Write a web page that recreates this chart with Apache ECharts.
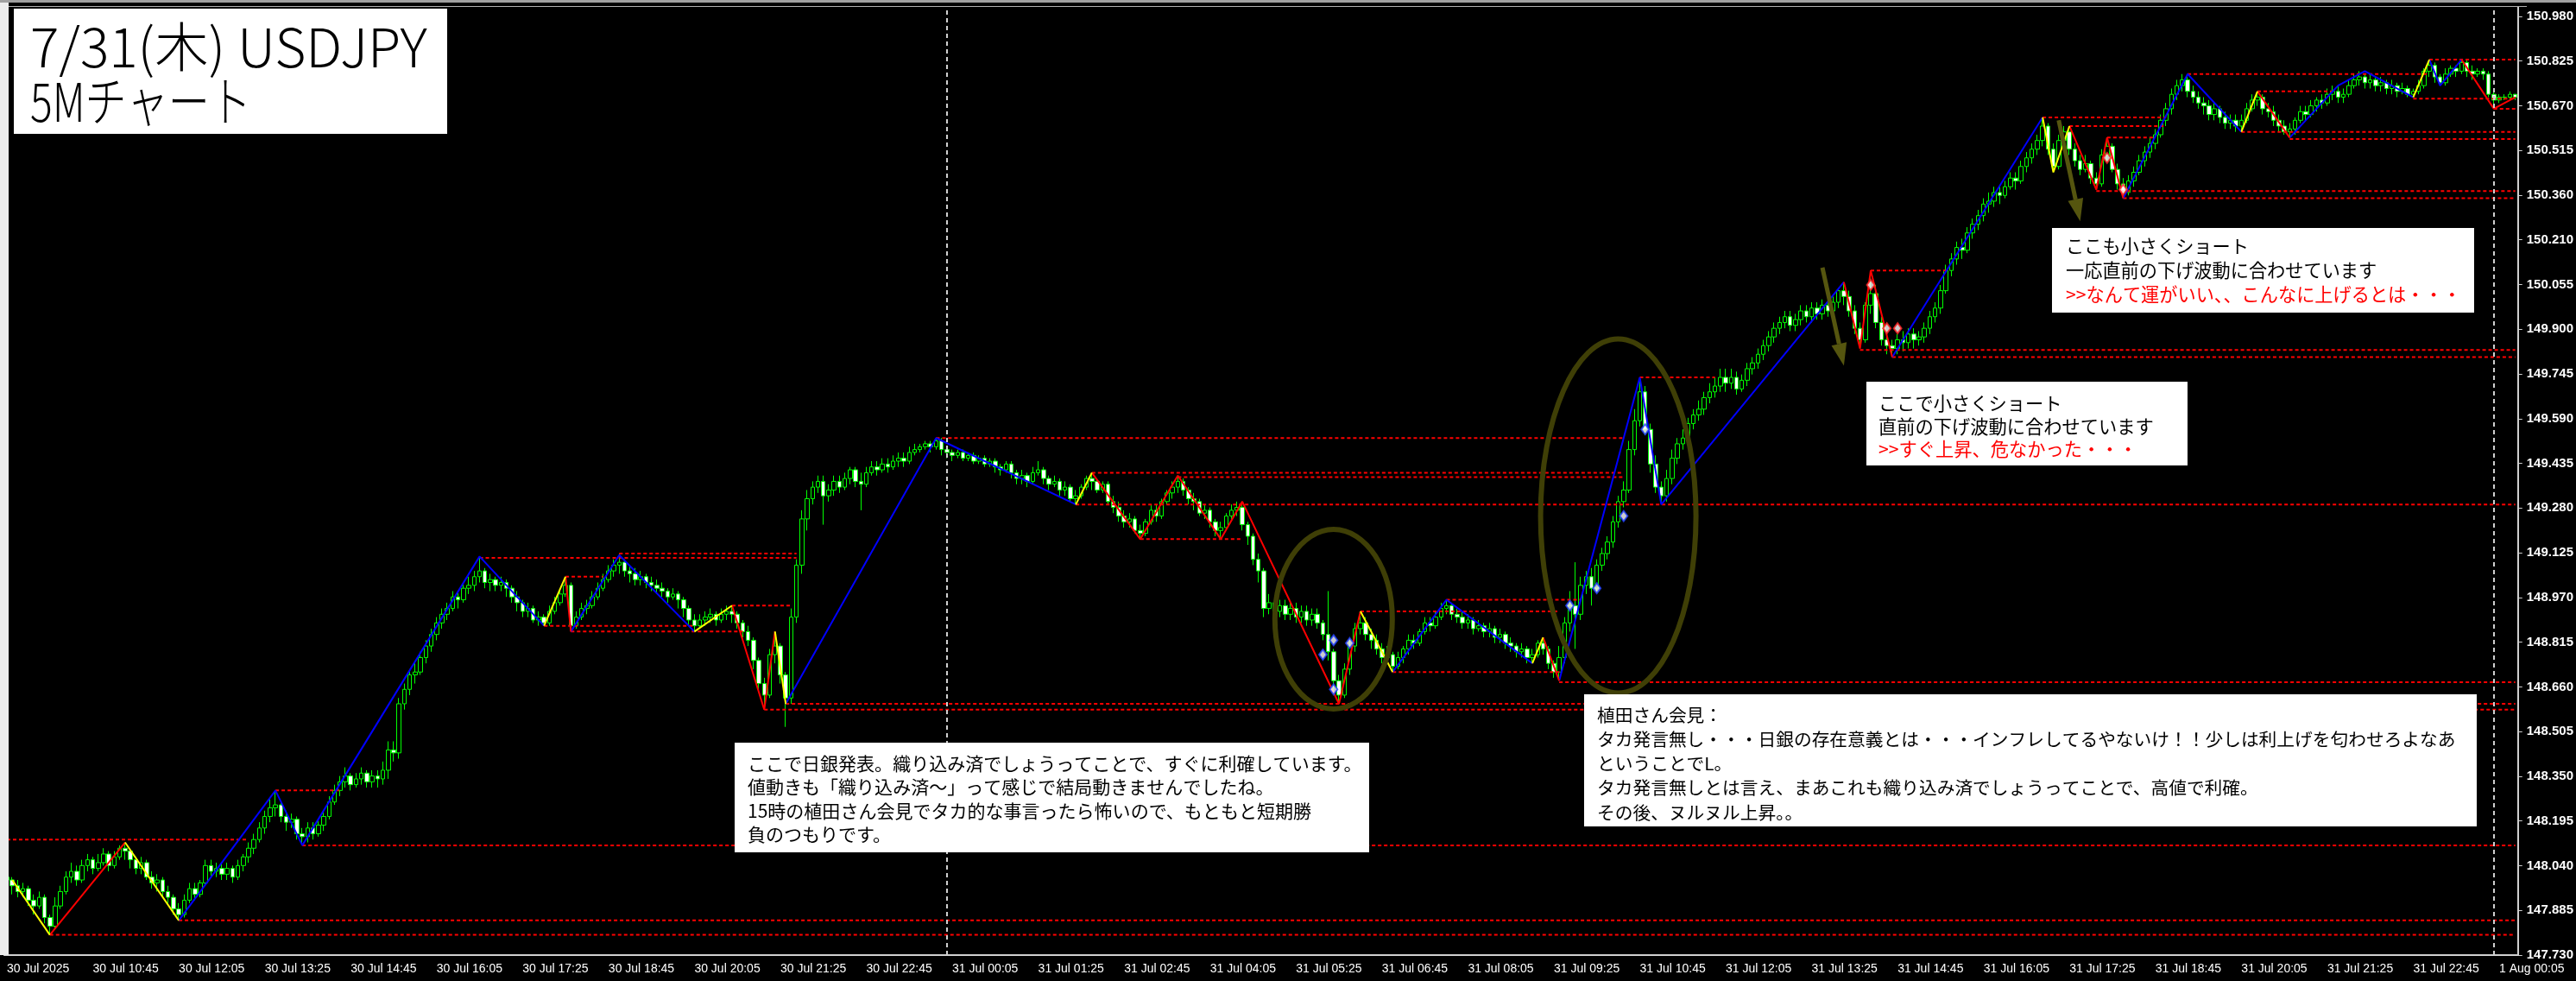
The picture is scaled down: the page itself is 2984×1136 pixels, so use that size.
<!DOCTYPE html>
<html><head><meta charset="utf-8">
<script src="https://cdn.jsdelivr.net/npm/echarts@6/dist/echarts.min.js"></script>
<style>html,body{margin:0;padding:0;background:#000;overflow:hidden}#c{width:2984px;height:1136px}</style>
</head><body><div id="c"></div>
<script>
// ---------- DATA ----------
const barCount = 468;
const firstOpen = 148.00;
const closes = [
147.99,147.97,147.95,147.96,147.92,147.90,147.93,147.86,147.83,147.90,
147.95,148.00,148.02,147.99,148.04,148.06,148.03,148.05,148.08,148.04,
148.07,148.10,148.09,148.06,148.03,148.05,148.00,147.98,147.99,147.95,
147.93,147.89,147.87,147.92,147.96,147.94,147.98,148.04,148.02,148.03,
148.01,148.03,148.00,148.04,148.07,148.10,148.13,148.17,148.21,148.24,
148.25,148.21,148.19,148.20,148.15,148.14,148.17,148.15,148.18,148.21,
148.26,148.30,148.33,148.35,148.32,148.34,148.36,148.33,148.35,148.34,
148.37,148.44,148.43,148.60,148.65,148.70,148.71,148.76,148.80,148.84,
148.88,148.91,148.93,148.97,148.96,149.00,149.01,149.04,149.06,149.02,
149.03,149.01,149.02,149.00,148.97,148.95,148.92,148.93,148.89,148.90,
148.88,148.92,148.95,148.98,149.01,148.87,148.90,148.93,148.94,148.97,
149.00,149.03,149.06,149.08,149.09,149.06,149.05,149.03,149.04,149.02,
149.01,149.00,148.99,148.97,148.98,148.96,148.93,148.89,148.87,148.89,
148.90,148.91,148.89,148.91,148.92,148.91,148.88,148.85,148.82,148.75,
148.67,148.63,148.77,148.80,148.70,148.62,148.90,149.08,149.24,149.31,
149.35,149.37,149.32,149.34,149.37,149.35,149.38,149.41,149.37,149.36,
149.40,149.42,149.41,149.43,149.42,149.44,149.45,149.44,149.47,149.48,
149.49,149.50,149.49,149.51,149.48,149.47,149.46,149.47,149.45,149.46,
149.44,149.45,149.43,149.44,149.42,149.41,149.43,149.40,149.38,149.39,
149.37,149.40,149.41,149.38,149.36,149.37,149.34,149.35,149.31,149.32,
149.35,149.38,149.37,149.34,149.36,149.30,149.28,149.25,149.23,149.24,
149.20,149.19,149.23,149.27,149.25,149.30,149.33,149.35,149.37,149.34,
149.31,149.30,149.26,149.27,149.23,149.20,149.21,149.25,149.27,149.28,
149.22,149.18,149.10,149.06,148.93,148.95,148.92,148.94,148.91,148.93,
148.90,148.92,148.89,148.91,148.88,148.84,148.78,148.68,148.63,148.72,
148.80,148.86,148.88,148.84,148.82,148.79,148.76,148.77,148.73,148.76,
148.79,148.82,148.81,148.85,148.88,148.87,148.90,148.93,148.94,148.91,
148.90,148.88,148.89,148.86,148.87,148.85,148.86,148.83,148.84,148.81,
148.80,148.78,148.79,148.76,148.77,148.81,148.79,148.74,148.71,148.76,
148.88,148.94,148.91,149.01,149.04,149.00,149.08,149.12,149.16,149.23,
149.30,149.34,149.48,149.58,149.68,149.55,149.43,149.35,149.32,149.38,
149.45,149.50,149.52,149.57,149.60,149.62,149.66,149.68,149.70,149.73,
149.71,149.73,149.69,149.72,149.76,149.78,149.81,149.84,149.87,149.90,
149.92,149.94,149.91,149.93,149.96,149.94,149.97,149.95,149.98,149.96,
149.99,150.03,150.01,149.96,149.90,149.86,149.98,150.02,149.92,149.86,
149.84,149.83,149.86,149.85,149.88,149.86,149.87,149.90,149.94,149.97,
150.03,150.10,150.14,150.18,150.17,150.23,150.26,150.29,150.33,150.34,
150.37,150.36,150.39,150.42,150.41,150.46,150.49,150.52,150.55,150.60,
150.52,150.46,150.55,150.58,150.52,150.48,150.45,150.47,150.42,150.40,
150.50,150.53,150.45,150.40,150.37,150.41,150.44,150.48,150.51,150.54,
150.57,150.62,150.66,150.71,150.74,150.76,150.72,150.70,150.68,150.67,
150.64,150.66,150.63,150.61,150.62,150.60,150.62,150.66,150.69,150.70,
150.66,150.65,150.62,150.60,150.58,150.59,150.62,150.65,150.64,150.67,
150.69,150.68,150.71,150.72,150.70,150.71,150.74,150.76,150.77,150.75,
150.76,150.74,150.75,150.73,150.74,150.72,150.73,150.71,150.72,150.74,
150.79,150.81,150.77,150.75,150.78,150.80,150.79,150.82,150.79,150.78,
150.79,150.78,150.71,150.69,150.70,150.70,150.71,150.70
];
const highs = [
148.01,148.00,147.99,147.98,147.97,147.94,147.95,147.94,147.87,147.93,
147.97,148.02,148.05,148.04,148.06,148.08,148.07,148.08,148.10,148.09,
148.09,148.11,148.12,148.10,148.07,148.07,148.06,148.02,148.01,148.00,
147.97,147.94,147.91,147.94,147.98,147.98,147.99,148.06,148.06,148.05,
148.05,148.05,148.04,148.06,148.08,148.12,148.15,148.19,148.23,148.27,
148.30,148.26,148.23,148.22,148.21,148.17,148.19,148.19,148.20,148.23,
148.28,148.32,148.35,148.38,148.36,148.36,148.38,148.37,148.37,148.37,
148.40,148.47,148.47,148.62,148.67,148.72,148.74,148.78,148.82,148.86,
148.90,148.93,148.95,148.99,148.99,149.02,149.04,149.06,149.11,149.07,
149.05,149.04,149.04,149.03,149.01,148.99,148.96,148.95,148.94,148.92,
148.91,148.94,148.97,149.00,149.04,149.02,148.92,148.95,148.96,148.99,
149.02,149.05,149.08,149.10,149.12,149.10,149.08,149.07,149.06,149.05,
149.04,149.03,149.02,149.00,149.00,148.99,148.97,148.94,148.91,148.91,
148.92,148.93,148.92,148.93,148.94,148.94,148.92,148.89,148.87,148.83,
148.76,148.69,148.79,148.85,148.81,148.71,148.93,149.10,149.27,149.34,
149.37,149.39,149.39,149.36,149.39,149.39,149.40,149.42,149.42,149.40,
149.42,149.44,149.44,149.45,149.45,149.46,149.47,149.47,149.49,149.50,
149.50,149.51,149.51,149.52,149.52,149.49,149.48,149.48,149.48,149.47,
149.47,149.46,149.46,149.45,149.45,149.43,149.44,149.44,149.41,149.41,
149.40,149.42,149.44,149.42,149.39,149.39,149.38,149.37,149.36,149.34,
149.36,149.39,149.40,149.38,149.37,149.37,149.32,149.30,149.27,149.26,
149.25,149.22,149.24,149.29,149.29,149.31,149.34,149.37,149.39,149.38,
149.35,149.33,149.31,149.29,149.28,149.24,149.23,149.26,149.29,149.30,
149.29,149.23,149.19,149.12,149.07,148.98,148.97,148.96,148.96,148.95,
148.95,148.94,148.94,148.93,148.93,148.89,148.99,148.79,148.70,148.74,
148.82,148.88,148.92,148.90,148.86,148.84,148.81,148.80,148.78,148.78,
148.80,148.84,148.84,148.86,148.90,148.90,148.92,148.95,148.96,148.95,
148.93,148.92,148.91,148.90,148.89,148.88,148.88,148.87,148.86,148.85,
148.83,148.81,148.81,148.80,148.79,148.82,148.83,148.80,148.75,148.80,
148.90,148.99,149.09,149.04,149.06,149.07,149.10,149.14,149.18,149.25,
149.32,149.37,149.51,149.62,149.73,149.70,149.57,149.46,149.37,149.41,
149.48,149.52,149.55,149.59,149.62,149.65,149.68,149.71,149.73,149.76,
149.76,149.76,149.75,149.74,149.78,149.80,149.83,149.86,149.89,149.92,
149.94,149.96,149.96,149.95,149.98,149.98,149.99,149.99,150.00,150.00,
150.01,150.04,150.06,150.03,149.98,149.92,149.99,150.10,150.05,149.94,
149.88,149.86,149.88,149.89,149.90,149.90,149.89,149.92,149.96,149.99,
150.05,150.12,150.16,150.20,150.21,150.25,150.28,150.31,150.35,150.37,
150.39,150.39,150.41,150.44,150.44,150.48,150.51,150.54,150.57,150.63,
150.61,150.54,150.57,150.60,150.59,150.54,150.50,150.50,150.48,150.44,
150.52,150.56,150.54,150.47,150.42,150.43,150.46,150.50,150.53,150.56,
150.59,150.64,150.68,150.73,150.76,150.78,150.78,150.74,150.72,150.70,
150.69,150.68,150.67,150.65,150.64,150.64,150.64,150.68,150.71,150.72,
150.71,150.68,150.67,150.64,150.62,150.61,150.63,150.67,150.67,150.69,
150.70,150.71,150.73,150.74,150.74,150.73,150.76,150.78,150.79,150.78,
150.78,150.77,150.77,150.76,150.76,150.75,150.75,150.74,150.73,150.76,
150.80,150.83,150.82,150.78,150.80,150.81,150.81,150.83,150.83,150.81,
150.80,150.80,150.79,150.72,150.71,150.71,150.72,150.71
];
const lows = [
147.97,147.94,147.93,147.93,147.90,147.87,147.89,147.84,147.80,147.82,
147.89,147.94,147.98,147.97,147.98,148.02,148.01,148.02,148.04,148.02,
148.03,148.06,148.06,148.03,148.01,148.01,147.99,147.96,147.95,147.93,
147.91,147.87,147.85,147.86,147.91,147.92,147.93,147.97,148.00,148.00,
147.99,147.99,147.98,147.99,148.02,148.05,148.08,148.12,148.15,148.19,
148.21,148.19,148.16,148.17,148.13,148.11,148.12,148.13,148.14,148.16,
148.20,148.25,148.28,148.31,148.30,148.31,148.32,148.31,148.31,148.31,
148.32,148.34,148.40,148.41,148.58,148.63,148.67,148.70,148.74,148.78,
148.82,148.86,148.89,148.92,148.93,148.95,148.98,148.99,149.02,149.00,
148.99,148.99,148.99,148.97,148.95,148.92,148.90,148.90,148.88,148.87,
148.87,148.87,148.91,148.94,148.97,148.85,148.86,148.89,148.91,148.93,
148.96,148.99,149.02,149.04,149.05,149.04,149.02,149.01,149.01,149.00,
148.99,148.98,148.97,148.95,148.96,148.93,148.90,148.87,148.85,148.86,
148.87,148.88,148.87,148.88,148.89,148.88,148.86,148.83,148.80,148.72,
148.65,148.58,148.62,148.74,148.67,148.52,148.60,148.88,149.05,149.20,
149.29,149.33,149.22,149.30,149.32,149.33,149.34,149.36,149.35,149.27,
149.35,149.39,149.39,149.40,149.40,149.41,149.42,149.42,149.43,149.46,
149.47,149.48,149.47,149.48,149.46,149.45,149.44,149.45,149.44,149.44,
149.43,149.43,149.42,149.42,149.40,149.39,149.40,149.38,149.36,149.36,
149.35,149.36,149.39,149.36,149.34,149.35,149.32,149.32,149.30,149.29,
149.31,149.34,149.34,149.33,149.33,149.29,149.26,149.23,149.21,149.21,
149.19,149.17,149.18,149.22,149.23,149.24,149.29,149.31,149.33,149.32,
149.29,149.27,149.25,149.24,149.21,149.18,149.17,149.20,149.24,149.25,
149.20,149.15,149.08,149.02,148.90,148.91,148.89,148.90,148.89,148.89,
148.88,148.88,148.87,148.87,148.86,148.82,148.75,148.64,148.60,148.62,
148.70,148.78,148.84,148.82,148.79,148.77,148.74,148.74,148.71,148.72,
148.74,148.77,148.79,148.80,148.84,148.85,148.86,148.89,148.91,148.89,
148.88,148.86,148.86,148.84,148.85,148.83,148.83,148.81,148.81,148.79,
148.78,148.76,148.76,148.74,148.74,148.76,148.77,148.72,148.69,148.68,
148.74,148.85,148.79,148.89,148.98,148.94,148.99,149.06,149.10,149.14,
149.21,149.28,149.33,149.46,149.56,149.53,149.40,149.33,149.29,149.30,
149.36,149.43,149.48,149.50,149.55,149.58,149.60,149.64,149.66,149.68,
149.68,149.69,149.67,149.68,149.70,149.74,149.76,149.79,149.82,149.85,
149.88,149.90,149.89,149.89,149.91,149.92,149.92,149.93,149.93,149.94,
149.94,149.97,149.98,149.94,149.88,149.83,149.85,149.95,149.90,149.84,
149.81,149.80,149.81,149.82,149.83,149.83,149.84,149.85,149.88,149.92,
149.95,150.02,150.08,150.12,150.14,150.16,150.21,150.24,150.27,150.30,
150.32,150.33,150.35,150.38,150.38,150.40,150.44,150.47,150.50,150.53,
150.50,150.44,150.45,150.52,150.50,150.46,150.43,150.44,150.40,150.38,
150.39,150.48,150.44,150.38,150.35,150.36,150.39,150.43,150.46,150.49,
150.52,150.56,150.60,150.64,150.69,150.72,150.70,150.68,150.66,150.64,
150.62,150.62,150.61,150.59,150.59,150.58,150.58,150.61,150.65,150.67,
150.64,150.63,150.60,150.58,150.57,150.56,150.57,150.61,150.62,150.63,
150.65,150.66,150.67,150.69,150.68,150.68,150.70,150.73,150.74,150.73,
150.73,150.72,150.72,150.71,150.71,150.70,150.71,150.70,150.70,150.71,
150.73,150.77,150.75,150.74,150.74,150.77,150.77,150.78,150.77,150.76,
150.77,150.76,150.70,150.66,150.68,150.69,150.69,150.69
];
const xTickLabels = ['30 Jul 2025','30 Jul 10:45','30 Jul 12:05','30 Jul 13:25','30 Jul 14:45','30 Jul 16:05','30 Jul 17:25','30 Jul 18:45','30 Jul 20:05','30 Jul 21:25','30 Jul 22:45','31 Jul 00:05','31 Jul 01:25','31 Jul 02:45','31 Jul 04:05','31 Jul 05:25','31 Jul 06:45','31 Jul 08:05','31 Jul 09:25','31 Jul 10:45','31 Jul 12:05','31 Jul 13:25','31 Jul 14:45','31 Jul 16:05','31 Jul 17:25','31 Jul 18:45','31 Jul 20:05','31 Jul 21:25','31 Jul 22:45','1 Aug 00:05'];
const yTickLabels = ['147.730','147.885','148.040','148.195','148.350','148.505','148.660','148.815','148.970','149.125','149.280','149.435','149.590','149.745','149.900','150.055','150.210','150.360','150.515','150.670','150.825','150.980'];
const daySeparators = [175, 463];
const yellowLegs = [
 [[1,147.99],[8,147.80]],
 [[22,148.12],[32,147.85]],
 [[100,148.87],[104,149.04]],
 [[128,148.85],[135,148.94]],
 [[143,148.85],[145,148.60]],
 [[199,149.29],[202,149.40]],
 [[252,148.92],[258,148.71]],
 [[284,148.74],[286,148.83]],
 [[379,150.63],[381,150.44],[384,150.60]],
 [[416,150.58],[419,150.72]],
 [[448,150.70],[451,150.83]]
];
const redLegs = [
 [[8,147.80],[22,148.12]],
 [[104,149.04],[105,148.85]],
 [[135,148.94],[141,148.58],[143,148.85]],
 [[202,149.40],[211,149.17],[218,149.39],[226,149.17],[230,149.30],[248,148.60],[252,148.92]],
 [[286,148.83],[289,148.68]],
 [[342,150.06],[345,149.83],[347,150.10],[351,149.80]],
 [[384,150.60],[389,150.38],[391,150.56],[394,150.35]],
 [[419,150.72],[425,150.56]],
 [[457,150.83],[463,150.66],[467,150.70]]
];
const blueLegs = [
 [[32,147.85],[50,148.30],[55,148.11],[88,149.11],[100,148.87]],
 [[105,148.85],[114,149.115],[128,148.85]],
 [[145,148.60],[173,149.52],[199,149.29]],
 [[258,148.71],[268,148.96],[284,148.74]],
 [[289,148.68],[304,149.73],[308,149.29],[342,150.06]],
 [[351,149.80],[379,150.63]],
 [[394,150.35],[406,150.78],[416,150.58]],
 [[425,150.56],[434,150.74],[439,150.79],[448,150.70]],
 [[451,150.83],[453,150.74],[457,150.83]]
];
// [startBar, endBar, price]
const hLevels = [
 [8,467,147.80],[32,467,147.85],[0,45,148.13],[55,467,148.11],[50,62,148.30],
 [88,147,149.105],[114,147,149.12],[104,111,149.04],[100,128,148.87],[105,137,148.85],
 [135,146,148.94],[141,467,148.58],[145,467,148.60],[173,301,149.52],[202,301,149.40],
 [218,301,149.385],[199,467,149.29],[211,230,149.17],[252,289,148.92],[268,293,148.96],
 [258,289,148.71],[289,467,148.675],[304,318,149.73],[347,361,150.10],[345,467,149.825],
 [351,467,149.80],[379,402,150.63],[384,402,150.60],[391,400,150.56],[389,467,150.375],
 [394,467,150.35],[406,451,150.78],[448,467,150.695],[416,467,150.58],[425,467,150.555],
 [451,467,150.83],[419,433,150.72],[463,467,150.66]
];
const blueMarks = [[245,148.77],[247,148.82],[250,148.81],[247,148.65],[291,148.94],[296,149.00],[301,149.25],[305,149.55]];
const redMarks = [[347,150.05],[350,149.90],[352,149.90],[391,150.49],[394,150.38]];
// annotation anchors [bar, price]
const ellipseCenters = [[247,148.893],[300,149.25]];
const arrowPaths = [[[338,150.11],[342,149.77]],[[382,150.62],[386,150.27]]];
const noteA = ['ここで日銀発表。織り込み済でしょうってことで、すぐに利確しています。','値動きも「織り込み済～」って感じで結局動きませんでしたね。','15時の植田さん会見でタカ的な事言ったら怖いので、もともと短期勝','負のつもりです。'];
const noteB = ['植田さん会見：','タカ発言無し・・・日銀の存在意義とは・・・インフレしてるやないけ！！少しは利上げを匂わせろよなあ','ということでL。','タカ発言無しとは言え、まあこれも織り込み済でしょうってことで、高値で利確。','その後、ヌルヌル上昇。。'];
const noteC = ['ここで小さくショート','直前の下げ波動に合わせています','>>すぐ上昇、危なかった・・・'];
const noteD = ['ここも小さくショート','一応直前の下げ波動に合わせています','>>なんて運がいい、、こんなに上げるとは・・・'];
const titleLines = ['7/31(木) USDJPY','5Mチャート'];

// ---------- BUILD ----------
const Y_MIN = 147.730, Y_STEP = 3.25/21, Y_MAX = 151.0125;
const categories = [];
(function(){ const t = Date.UTC(2025,6,30,9,25); const mon=['Jan','Feb','Mar','Apr','May','Jun','Jul','Aug','Sep','Oct','Nov','Dec'];
 for (let i=0;i<barCount;i++){ const d=new Date(t+i*300000); categories.push(d.getUTCDate()+' '+mon[d.getUTCMonth()]+' '+String(d.getUTCHours()).padStart(2,'0')+':'+String(d.getUTCMinutes()).padStart(2,'0')); } })();
const ohlc = closes.map((c,i)=>{ const o = i===0 ? firstOpen : closes[i-1]; return [o, c, Math.min(lows[i],o,c), Math.max(highs[i],o,c)]; });

const chart = echarts.init(document.getElementById('c'), null, {renderer:'canvas', width:2984, height:1136});
const series = [{
  type:'candlestick', data: ohlc, barWidth: 5, z: 2, silent:true,
  itemStyle:{ color:'#000000', color0:'#ffffff', borderColor:'#00ff00', borderColor0:'#00ff00', borderWidth:1 },
  markLine:{ silent:true, symbol:['none','none'], label:{show:false},
    lineStyle:{ color:'#d0d0d0', type:[5,4], width:2 },
    data: daySeparators.map(i=>({xAxis: categories[i]})) }
}];
hLevels.forEach(h=>{
  series.push({type:'line', data:[[h[0],h[2]],[h[1],h[2]]], symbol:'none', silent:true, z:3,
    lineStyle:{color:'#ff0000', width:2, type:[4,3]}});
});
function addLegs(legs, color){ legs.forEach(l=>{ series.push({type:'line', data:l, symbol:'none', silent:true, z:4, lineStyle:{color:color, width:2}}); }); }
addLegs(blueLegs,'#0000ff'); addLegs(redLegs,'#ff0000'); addLegs(yellowLegs,'#ffff00');
series.push({type:'scatter', data: blueMarks, symbol:'diamond', symbolSize:[9,12], z:5, silent:true, itemStyle:{color:'#ffffff', borderColor:'#2040ff', borderWidth:2}});
series.push({type:'scatter', data: redMarks, symbol:'diamond', symbolSize:[9,12], z:5, silent:true, itemStyle:{color:'#ffffff', borderColor:'#ff2020', borderWidth:2}});

chart.setOption({
  backgroundColor:'#000000', animation:false,
  grid:{ left:4.88, right:57.1, top:8, bottom:30, containLabel:false },
  xAxis:{ type:'category', data:categories, boundaryGap:true,
    axisLine:{ lineStyle:{ color:'#d0d0d0', width:2 } },
    axisTick:{ interval:15, alignWithLabel:true, length:5, lineStyle:{ color:'#d0d0d0', width:1 } },
    axisLabel:{ interval:15, align:'left', margin:9, color:'#ffffff', fontFamily:'Liberation Sans', fontSize:14,
      formatter:(v,idx)=> (idx%16===0 ? (xTickLabels[idx/16]||'') : '') },
    splitLine:{show:false} },
  yAxis:{ type:'value', position:'right', min:Y_MIN, max:Y_MAX, interval:Y_STEP, scale:true,
    axisLine:{ show:true, lineStyle:{ color:'#d0d0d0', width:2 } },
    axisTick:{ show:true, length:5, lineStyle:{ color:'#d0d0d0' } },
    axisLabel:{ margin:10, color:'#ffffff', fontFamily:'Liberation Sans', fontWeight:'bold', fontSize:15, showMaxLabel:false,
      formatter: v=>{ const k=Math.round((v-Y_MIN)/Y_STEP); if (k<0||k>=yTickLabels.length||Math.abs(v-(Y_MIN+k*Y_STEP))>1e-4) return ''; return yTickLabels[k]; } },
    splitLine:{show:false} },
  series: series
});

// ---------- ANNOTATIONS ----------
const P = p => chart.convertToPixel({gridIndex:0}, p);
const JP = '"Noto Sans CJK JP", sans-serif';
const mctx = document.createElement('canvas').getContext('2d');
function measure(text, fs, weight){ mctx.font = (weight||'normal')+' '+fs+'px '+JP; return mctx.measureText(text).width; }
function fitSize(text, target, weight){ return 100*target/measure(text,100,weight); }
const g = [];
g.push({type:'rect', shape:{x:0,y:0,width:2984,height:3}, style:{fill:'#a0a0a0'}, z:100});
g.push({type:'rect', shape:{x:0,y:7,width:2927,height:1}, style:{fill:'#b0b0b0'}, z:100});
g.push({type:'rect', shape:{x:0,y:3,width:10,height:1103}, style:{fill:'#ececec'}, z:100});
const ellR = [[68,104],[90,205]];
ellipseCenters.forEach((c,k)=>{ const p=P(c); g.push({type:'ellipse', shape:{cx:p[0],cy:p[1],rx:ellR[k][0],ry:ellR[k][1]}, style:{fill:'none', stroke:'#3f3f06', lineWidth:6}, z:50}); });
arrowPaths.forEach(a=>{ const s=P(a[0]), e=P(a[1]); const dx=e[0]-s[0], dy=e[1]-s[1], L=Math.hypot(dx,dy), ux=dx/L, uy=dy/L, hl=26, hw=9;
  const bx=e[0]-ux*hl, by=e[1]-uy*hl;
  g.push({type:'polyline', shape:{points:[s,[bx,by]]}, style:{stroke:'#55550f', lineWidth:5, fill:'none'}, z:50});
  g.push({type:'polygon', shape:{points:[e,[bx-uy*hw,by+ux*hw],[bx+uy*hw,by-ux*hw]]}, style:{fill:'#55550f'}, z:50}); });
// fits: list of [lineIndex, maxWidth]
function box(x,y,w,h,lines,tx,ty,lh,fits,redLast){
  let fs = 23; fits.forEach(f=>{ fs = Math.min(fs, fitSize(lines[f[0]], f[1])); });
  g.push({type:'rect', shape:{x:x,y:y,width:w,height:h}, style:{fill:'#ffffff'}, z:60});
  lines.forEach((t,i)=>{ g.push({type:'text', x:tx, y:ty+i*lh, style:{text:t, fill:(redLast&&i===lines.length-1)?'#ff0000':'#000000', fontSize:fs, fontFamily:JP, verticalAlign:'middle', align:'left'}, z:61}); });
}
g.push({type:'rect', shape:{x:16,y:10,width:502,height:145}, style:{fill:'#ffffff'}, z:60});
const tfs = fitSize(titleLines[0], 460, 300);
g.push({type:'text', x:35, y:54, style:{text:titleLines[0], fill:'#000', fontSize:tfs, fontWeight:300, fontFamily:JP, verticalAlign:'middle'}, z:61});
const l2w = measure(titleLines[1], tfs, 300);
g.push({type:'group', x:35, y:117, scaleX: 256/l2w, z:61, children:[
  {type:'text', x:0, y:0, style:{text:titleLines[1], fill:'#000', fontSize:tfs, fontWeight:300, fontFamily:JP, verticalAlign:'middle'}, z:61}]});
box(851,860,735,127,noteA,866,884,27.5,[[0,712]],false);
box(1835,804,1034,153,noteB,1850,828,28.2,[[1,995]],false);
box(2162,442,372,97,noteC,2176,467,26.5,[[1,340],[2,300]],true);
box(2377,264,489,98,noteD,2393,285,28,[[1,382],[2,458]],true);
chart.setOption({graphic:g});
</script></body></html>
